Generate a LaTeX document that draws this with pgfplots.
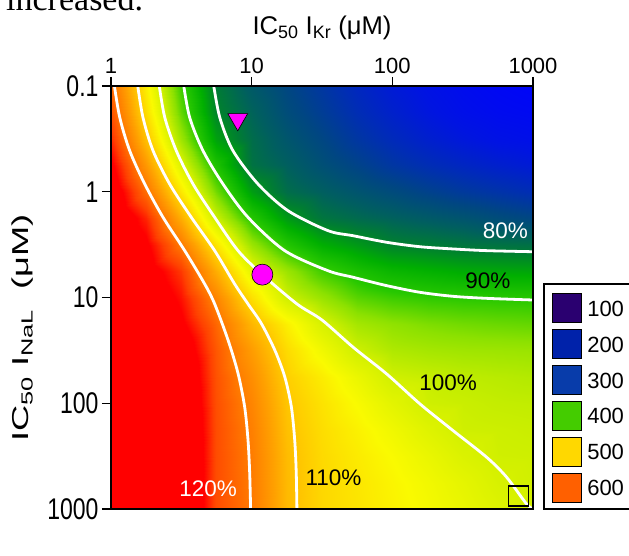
\documentclass[border=0pt]{standalone}
\usepackage{fontspec}
\setmainfont{Liberation Sans}
\newfontfamily\serifface{Liberation Serif}
\usepackage{graphicx}
\usepackage{pgfplots}
\usepackage{pgfplotstable}
\pgfplotsset{compat=1.18}

\definecolor{c100}{RGB}{42,0,112}
\definecolor{c200}{RGB}{0,34,170}
\definecolor{c300}{RGB}{8,60,170}
\definecolor{c400}{RGB}{68,204,0}
\definecolor{c500}{RGB}{255,216,0}
\definecolor{c600}{RGB}{255,96,0}
\definecolor{mag}{RGB}{255,0,255}

\newcommand\vs[1]{\scalebox{1}[1.3]{#1}}
\newcommand\lab{\fontsize{22.5}{24}\selectfont}

% APD in % of control; x = log10 IC50 IKr, y = log10 IC50 INaL
\pgfplotstableread[row sep=\\]{
x y v\\
0 -1 121.5\\ 0.25 -1 106.2\\ 0.5 -1 91.0\\ 0.75 -1 79.7\\ 1 -1 75\\ 1.25 -1 72\\ 1.5 -1 69.5\\ 1.75 -1 67\\ 2 -1 65\\ 2.25 -1 63.5\\ 2.5 -1 62.3\\ 2.75 -1 61.5\\ 3 -1 61\\
0 -0.75 123.5\\ 0.25 -0.75 108.1\\ 0.5 -0.75 92.9\\ 0.75 -0.75 80.8\\ 1 -0.75 76.5\\ 1.25 -0.75 73\\ 1.5 -0.75 70.5\\ 1.75 -0.75 68\\ 2 -0.75 66\\ 2.25 -0.75 64.3\\ 2.5 -0.75 63\\ 2.75 -0.75 62.2\\ 3 -0.75 61.8\\
0 -0.5 126.4\\ 0.25 -0.5 111.4\\ 0.5 -0.5 96.3\\ 0.75 -0.5 83.6\\ 1 -0.5 77.8\\ 1.25 -0.5 74.5\\ 1.5 -0.5 72\\ 1.75 -0.5 69.5\\ 2 -0.5 67.5\\ 2.25 -0.5 65.8\\ 2.5 -0.5 64.5\\ 2.75 -0.5 63.5\\ 3 -0.5 63\\
0 -0.25 130\\ 0.25 -0.25 116\\ 0.5 -0.25 101.4\\ 0.75 -0.25 88.7\\ 1 -0.25 78.6\\ 1.25 -0.25 76\\ 1.5 -0.25 73.5\\ 1.75 -0.25 71.5\\ 2 -0.25 69.5\\ 2.25 -0.25 68\\ 2.5 -0.25 66.8\\ 2.75 -0.25 65.8\\ 3 -0.25 65\\
0 0 133\\ 0.25 0 121\\ 0.5 0 107.1\\ 0.75 0 93.8\\ 1 0 83.3\\ 1.25 0 78\\ 1.5 0 76\\ 1.75 0 74.3\\ 2 0 72.8\\ 2.25 0 71.3\\ 2.5 0 70\\ 2.75 0 69\\ 3 0 68\\
0 0.25 135\\ 0.25 0.25 126.8\\ 0.5 0.25 113.5\\ 0.75 0.25 99.7\\ 1 0.25 89.5\\ 1.25 0.25 82.9\\ 1.5 0.25 79\\ 1.75 0.25 77.5\\ 2 0.25 76.3\\ 2.25 0.25 75.2\\ 2.5 0.25 74.2\\ 2.75 0.25 73\\ 3 0.25 72\\
0 0.5 136\\ 0.25 0.5 130\\ 0.5 0.5 119.8\\ 0.75 0.5 107.4\\ 1 0.5 96.1\\ 1.25 0.5 89.4\\ 1.5 0.5 85\\ 1.75 0.5 82.8\\ 2 0.5 80.5\\ 2.25 0.5 79.8\\ 2.5 0.5 79\\ 2.75 0.5 78.6\\ 3 0.5 78.3\\
0 0.75 137\\ 0.25 0.75 132\\ 0.5 0.75 125.5\\ 0.75 0.75 113.5\\ 1 0.75 102.2\\ 1.25 0.75 96.1\\ 1.5 0.75 91.2\\ 1.75 0.75 88.3\\ 2 0.75 86.3\\ 2.25 0.75 85.4\\ 2.5 0.75 84.6\\ 2.75 0.75 84.2\\ 3 0.75 84\\
0 1 138\\ 0.25 1 134\\ 0.5 1 128\\ 0.75 1 118.4\\ 1 1 107.9\\ 1.25 1 99.9\\ 1.5 1 96\\ 1.75 1 92.5\\ 2 1 91.1\\ 2.25 1 90.4\\ 2.5 1 90.05\\ 2.75 1 89.9\\ 3 1 89.8\\
0 1.25 139\\ 0.25 1.25 136\\ 0.5 1.25 130\\ 0.75 1.25 121.6\\ 1 1.25 112.5\\ 1.25 1.25 106.1\\ 1.5 1.25 100.7\\ 1.75 1.25 96.8\\ 2 1.25 95.3\\ 2.25 1.25 94.3\\ 2.5 1.25 93.7\\ 2.75 1.25 93.3\\ 3 1.25 93\\
0 1.5 140\\ 0.25 1.5 138\\ 0.5 1.5 133\\ 0.75 1.5 123\\ 1 1.5 115.4\\ 1.25 1.5 108.4\\ 1.5 1.5 103.8\\ 1.75 1.5 99.7\\ 2 1.5 97.5\\ 2.25 1.5 96.8\\ 2.5 1.5 96.4\\ 2.75 1.5 96.2\\ 3 1.5 96\\
0 1.75 140\\ 0.25 1.75 139\\ 0.5 1.75 135\\ 0.75 1.75 123.5\\ 1 1.75 117.2\\ 1.25 1.75 109.8\\ 1.5 1.75 106.5\\ 1.75 1.75 103.1\\ 2 1.75 99.9\\ 2.25 1.75 99.2\\ 2.5 1.75 98.6\\ 2.75 1.75 98.2\\ 3 1.75 97.8\\
0 2 140\\ 0.25 2 139.5\\ 0.5 2 136\\ 0.75 2 123.8\\ 1 2 118.3\\ 1.25 2 110.8\\ 1.5 2 107.6\\ 1.75 2 104.8\\ 2 2 102.1\\ 2.25 2 99.8\\ 2.5 2 99.4\\ 2.75 2 99\\ 3 2 98.8\\
0 2.25 140\\ 0.25 2.25 140\\ 0.5 2.25 137\\ 0.75 2.25 124\\ 1 2.25 119\\ 1.25 2.25 111.4\\ 1.5 2.25 108.2\\ 1.75 2.25 106\\ 2 2.25 103.8\\ 2.25 2.25 101.6\\ 2.5 2.25 99.8\\ 2.75 2.25 99.6\\ 3 2.25 99.4\\
0 2.5 140\\ 0.25 2.5 140\\ 0.5 2.5 137.5\\ 0.75 2.5 124\\ 1 2.5 119.4\\ 1.25 2.5 111.9\\ 1.5 2.5 108.6\\ 1.75 2.5 106.7\\ 2 2.5 104.9\\ 2.25 2.5 103\\ 2.5 2.5 101.1\\ 2.75 2.5 99.85\\ 3 2.5 99.7\\
0 2.75 140\\ 0.25 2.75 140\\ 0.5 2.75 138\\ 0.75 2.75 124\\ 1 2.75 119.6\\ 1.25 2.75 112.1\\ 1.5 2.75 108.8\\ 1.75 2.75 107.2\\ 2 2.75 105.6\\ 2.25 2.75 104\\ 2.5 2.75 102.4\\ 2.75 2.75 100.7\\ 3 2.75 99.9\\
0 3 140\\ 0.25 3 140\\ 0.5 3 138\\ 0.75 3 124\\ 1 3 119.8\\ 1.25 3 112.2\\ 1.5 3 108.9\\ 1.75 3 107.4\\ 2 3 105.9\\ 2.25 3 104.4\\ 2.5 3 103\\ 2.75 3 101.5\\ 3 3 100\\
}\apd

\begin{document}
\begin{tikzpicture}
\useasboundingbox (0,0) rectangle (629pt,556pt);
\node[anchor=base west, inner sep=0pt, font=\serifface\fontsize{34}{36}\selectfont] at (6pt,545pt) {increased.};
\begin{axis}[
    at={(111pt,47pt)}, anchor=south west,
    scale only axis, width=422pt, height=423pt,
    xmin=0, xmax=3, ymin=-1, ymax=3, y dir=reverse,
    xtick={0,1,2,3}, xticklabels={1,10,100,1000},
    ytick={-1,0,1,2,3}, yticklabels={\vs{0.1},\vs{1},\vs{10},\vs{100},\vs{1000}},
    xtick pos=right, xticklabel pos=right, ytick pos=left,
    tick align=outside, major tick length=9pt,
    tick style={black, line width=1.5pt},
    axis line style={line width=1.6pt},
    axis on top,
    xticklabel style={font=\fontsize{22}{24}\selectfont},
    yticklabel style={font=\fontsize{23}{25}\selectfont},
    xlabel={IC\textsubscript{50} I\textsubscript{Kr} (μM)},
    xlabel style={at={(axis description cs:0.5,1.1206)}, anchor=base, font=\fontsize{25.6}{28}\selectfont},
    ylabel={\resizebox{228pt}{\height}{IC\textsubscript{50} I\textsubscript{NaL}\ \ (μM)}},
    ylabel style={at={(axis description cs:-0.2085,0.428)}, anchor=center, font=\fontsize{23}{25}\selectfont},
    colormap={apd}{rgb255(60)=(0,0,255) rgb255(64)=(0,20,225) rgb255(68)=(0,45,180)
        rgb255(72)=(0,70,130) rgb255(76)=(0,95,95) rgb255(80)=(0,125,50)
        rgb255(85)=(0,175,0) rgb255(90)=(40,200,0) rgb255(95)=(140,225,0)
        rgb255(100)=(210,240,0) rgb255(105)=(250,250,0) rgb255(110)=(255,205,0)
        rgb255(115)=(255,160,0) rgb255(120)=(255,120,0) rgb255(125)=(255,65,0)
        rgb255(129)=(255,0,0) rgb255(140)=(255,0,0)},
    point meta min=60, point meta max=140,
    legend image code/.code={\fill[#1] (0pt,-13pt) rectangle (29pt,16pt);},
    legend cell align=left,
    legend style={at={(1.026,0.532)}, anchor=north west, draw=none, fill=none,
        font=\fontsize{22}{24}\selectfont, nodes={inner sep=0pt},
        row sep=6.5pt, column sep=6pt, inner xsep=7.7pt, inner ysep=9pt},
]
\addplot[surf, shader=interp, point meta=explicit, mesh/cols=13, forget plot]
    table[x=x, y=y, meta=v] {\apd};

\addplot[white, line width=2.8pt, smooth, forget plot] coordinates {
    (0.021,-1.03) (0.062,-0.704) (0.133,-0.388) (0.240,-0.073) (0.370,0.242)
    (0.524,0.557) (0.666,0.872) (0.737,1.061) (0.832,1.402) (0.903,1.717)
    (0.950,2.033) (0.974,2.348) (0.986,2.662) (0.993,3.03)};
\addplot[white, line width=2.8pt, smooth, forget plot] coordinates {
    (0.187,-1.03) (0.227,-0.704) (0.299,-0.388) (0.417,-0.073) (0.571,0.242)
    (0.737,0.557) (0.879,0.872) (0.974,1.061) (1.068,1.244) (1.164,1.496)
    (1.235,1.749) (1.282,2.033) (1.306,2.348) (1.317,2.662) (1.322,3.03)};
\addplot[white, line width=2.8pt, smooth, forget plot] coordinates {
    (0.340,-1.03) (0.382,-0.704) (0.464,-0.388) (0.583,-0.073) (0.737,0.242)
    (0.903,0.557) (1.076,0.784) (1.322,1.061) (1.500,1.213) (1.722,1.471)
    (1.960,1.723) (2.197,2.007) (2.433,2.260) (2.671,2.511) (2.813,2.700)
    (2.955,2.953) (3.03,3.03)};
\addplot[white, line width=2.8pt, smooth, forget plot] coordinates {
    (0.514,-1.03) (0.559,-0.704) (0.654,-0.388) (0.796,-0.073) (0.974,0.242)
    (1.235,0.557) (1.543,0.747) (1.722,0.809) (1.960,0.888) (2.197,0.951)
    (2.433,0.989) (2.671,1.008) (3.03,1.025)};
\addplot[white, line width=2.8pt, smooth, forget plot] coordinates {
    (0.727,-1.03) (0.773,-0.704) (0.867,-0.388) (1.045,-0.073) (1.258,0.179)
    (1.543,0.368) (1.722,0.416) (1.960,0.478) (2.197,0.520) (2.433,0.541)
    (2.671,0.557) (3.03,0.568)};

\addplot[only marks, mark=triangle*, mark size=11.5pt, forget plot,
    mark options={rotate=180, fill=mag, draw=black, line width=0.6pt}]
    coordinates {(0.901,-0.685)};
\addplot[only marks, mark=*, mark size=10.5pt, forget plot,
    mark options={fill=mag, draw=black, line width=0.6pt}]
    coordinates {(1.076,0.784)};
\addplot[only marks, mark=square, mark size=10pt, forget plot,
    mark options={draw=black, line width=1.2pt}]
    coordinates {(2.898,2.877)};

\node[white, font=\lab, inner sep=0pt] at (axis cs:2.804,0.366) {80\%};
\node[black, font=\lab, inner sep=0pt] at (axis cs:2.680,0.839) {90\%};
\node[black, font=\lab, inner sep=0pt] at (axis cs:2.396,1.809) {100\%};
\node[black, font=\lab, inner sep=0pt] at (axis cs:1.582,2.702) {110\%};
\node[white, font=\lab, inner sep=0pt] at (axis cs:0.690,2.811) {120\%};
\node[anchor=base, font=\fontsize{24}{26}\selectfont] at (axis description cs:0.5,-0.0804) {APD (ms)\ \ - [D]= 5μM};

\addlegendimage{fill=c100}\addlegendentry{100}
\addlegendimage{fill=c200}\addlegendentry{200}
\addlegendimage{fill=c300}\addlegendentry{300}
\addlegendimage{fill=c400}\addlegendentry{400}
\addlegendimage{fill=c500}\addlegendentry{500}
\addlegendimage{fill=c600}\addlegendentry{600}
\end{axis}
% frame of the colour key, running off the right edge as in the reference
\draw[line width=1.5pt] (680pt,272pt) -- (544pt,272pt) -- (544pt,47pt) -- (680pt,47pt);
\end{tikzpicture}
\end{document}
